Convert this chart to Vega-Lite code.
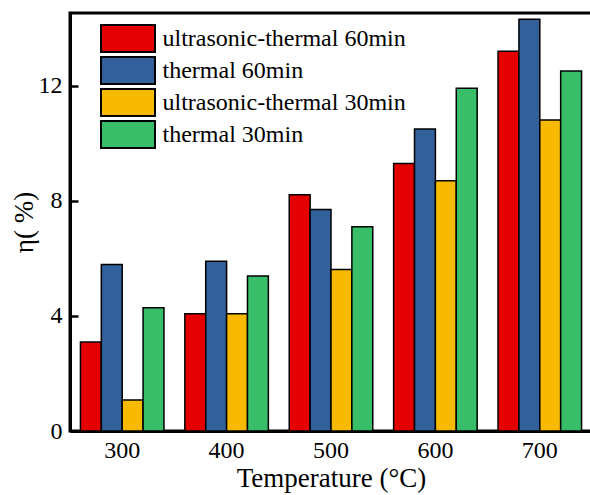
{
  "$schema": "https://vega.github.io/schema/vega-lite/v6.json",
  "autosize": {"type": "none"},
  "padding": {"left": 70, "top": 13, "right": 0, "bottom": 64},
  "width": 522,
  "height": 418,
  "background": "white",
  "config": {
    "font": "Liberation Serif",
    "axis": {"labelFont": "Liberation Serif", "titleFont": "Liberation Serif"},
    "legend": {"labelFont": "Liberation Serif"},
    "view": {"stroke": "black", "strokeWidth": 3}
  },
  "data": {
    "values": [
      {"T": "300", "series": "ultrasonic-thermal 60min", "eta": 3.09},
      {"T": "300", "series": "thermal 60min", "eta": 5.79},
      {"T": "300", "series": "ultrasonic-thermal 30min", "eta": 1.08},
      {"T": "300", "series": "thermal 30min", "eta": 4.28},
      {"T": "400", "series": "ultrasonic-thermal 60min", "eta": 4.08},
      {"T": "400", "series": "thermal 60min", "eta": 5.9},
      {"T": "400", "series": "ultrasonic-thermal 30min", "eta": 4.08},
      {"T": "400", "series": "thermal 30min", "eta": 5.39},
      {"T": "500", "series": "ultrasonic-thermal 60min", "eta": 8.21},
      {"T": "500", "series": "thermal 60min", "eta": 7.7},
      {"T": "500", "series": "ultrasonic-thermal 30min", "eta": 5.61},
      {"T": "500", "series": "thermal 30min", "eta": 7.1},
      {"T": "600", "series": "ultrasonic-thermal 60min", "eta": 9.3},
      {"T": "600", "series": "thermal 60min", "eta": 10.5},
      {"T": "600", "series": "ultrasonic-thermal 30min", "eta": 8.7},
      {"T": "600", "series": "thermal 30min", "eta": 11.91},
      {"T": "700", "series": "ultrasonic-thermal 60min", "eta": 13.2},
      {"T": "700", "series": "thermal 60min", "eta": 14.31},
      {"T": "700", "series": "ultrasonic-thermal 30min", "eta": 10.81},
      {"T": "700", "series": "thermal 30min", "eta": 12.51}
    ]
  },
  "mark": {"type": "bar", "stroke": "black", "strokeWidth": 1.5},
  "encoding": {
    "x": {
      "field": "T",
      "type": "nominal",
      "sort": null,
      "scale": {"paddingInner": 0.2, "paddingOuter": 0.1},
      "axis": {
        "title": "Temperature (°C)",
        "titleFontSize": 27,
        "titleFontWeight": "normal",
        "titleColor": "black",
        "titlePadding": 3,
        "labelAngle": 0,
        "labelFontSize": 24,
        "labelColor": "black",
        "labelPadding": 7,
        "ticks": false,
        "domainColor": "black",
        "domainWidth": 3
      }
    },
    "xOffset": {
      "field": "series",
      "type": "nominal",
      "sort": ["ultrasonic-thermal 60min", "thermal 60min", "ultrasonic-thermal 30min", "thermal 30min"],
      "scale": {"paddingInner": 0, "paddingOuter": 0}
    },
    "y": {
      "field": "eta",
      "type": "quantitative",
      "scale": {"domain": [0, 14.53], "nice": false},
      "axis": {
        "title": "η( %)",
        "titleFontSize": 27,
        "titleFontWeight": "normal",
        "titleColor": "black",
        "titlePadding": 0,
        "values": [0, 4, 8, 12],
        "grid": false,
        "tickSize": -8,
        "tickWidth": 2.5,
        "tickColor": "black",
        "labelFontSize": 24,
        "labelColor": "black",
        "labelPadding": 16,
        "domainColor": "black",
        "domainWidth": 3
      }
    },
    "fill": {
      "field": "series",
      "type": "nominal",
      "sort": ["ultrasonic-thermal 60min", "thermal 60min", "ultrasonic-thermal 30min", "thermal 30min"],
      "scale": {
        "domain": ["ultrasonic-thermal 60min", "thermal 60min", "ultrasonic-thermal 30min", "thermal 30min"],
        "range": ["#E40000", "#32609A", "#F7BA00", "#38BE69"]
      },
      "legend": {
        "title": null,
        "orient": "none",
        "legendX": 43.5,
        "legendY": 11,
        "symbolType": "M-2,-1H2V1H-2Z",
        "symbolSize": 729,
        "symbolStrokeColor": "black",
        "symbolStrokeWidth": 2,
        "symbolOpacity": 1,
        "labelFontSize": 24,
        "labelColor": "black",
        "labelLimit": 400,
        "labelOffset": 20,
        "rowPadding": -6
      }
    }
  }
}
